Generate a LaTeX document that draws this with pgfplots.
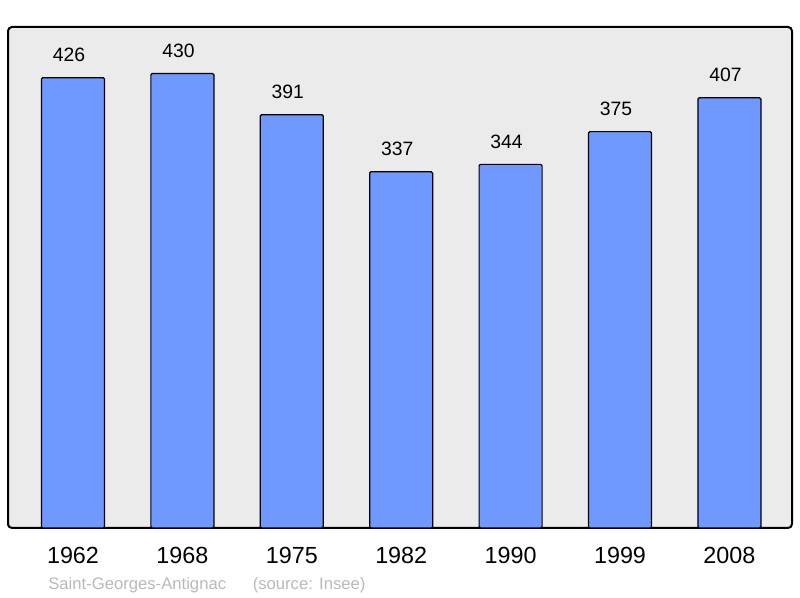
\documentclass[border=0pt]{standalone}
\usepackage{fontspec}
\setmainfont{Liberation Sans}
\usepackage{pgfplots}
\pgfplotsset{compat=1.18}
\definecolor{barblue}{RGB}{112,153,255}
\definecolor{bggray}{RGB}{235,235,235}
\definecolor{footgray}{RGB}{185,185,185}
\begin{document}
\begin{tikzpicture}
  % picture frame: 800x598 px at 0.75pt/px, axis box starts at px (8,528)
  \useasboundingbox (-6pt,-52.5pt) rectangle (594pt,396pt);
  \begin{axis}[
      at={(0,0)}, anchor=south west,
      width=588pt, height=375.75pt, scale only axis,
      xmin=-0.594, xmax=6.572, ymin=0, ymax=474,
      ybar, bar width=0.576,
      axis background/.style={fill=bggray},
      axis line style={line width=1.5pt, rounded corners=3pt},
      xtick=data, xticklabels={1962,1968,1975,1982,1990,1999,2008},
      ytick=\empty, major tick length=0,
      xticklabel style={font=\fontsize{17.5}{19}\selectfont, anchor=base, yshift=-27pt},
      /pgf/number format/assume math mode=true,
      nodes near coords,
      every node near coord/.append style={font=\fontsize{14.5}{16}\selectfont,
        anchor=base, yshift=12pt, xshift=-3pt},
      clip=false]
    \addplot[fill=barblue, draw=black, line width=0.9pt, rounded corners=1pt]
      coordinates {(0,426)(1,430)(2,391)(3,337)(4,344)(5,375)(6,407)};
  \end{axis}
  \node[anchor=base west, text=footgray, font=\fontsize{12.5}{14}\selectfont, inner sep=0]
    at (30pt,-46.5pt) {Saint-Georges-Antignac\hspace{1.6em}(source: Insee)};
\end{tikzpicture}
\end{document}
